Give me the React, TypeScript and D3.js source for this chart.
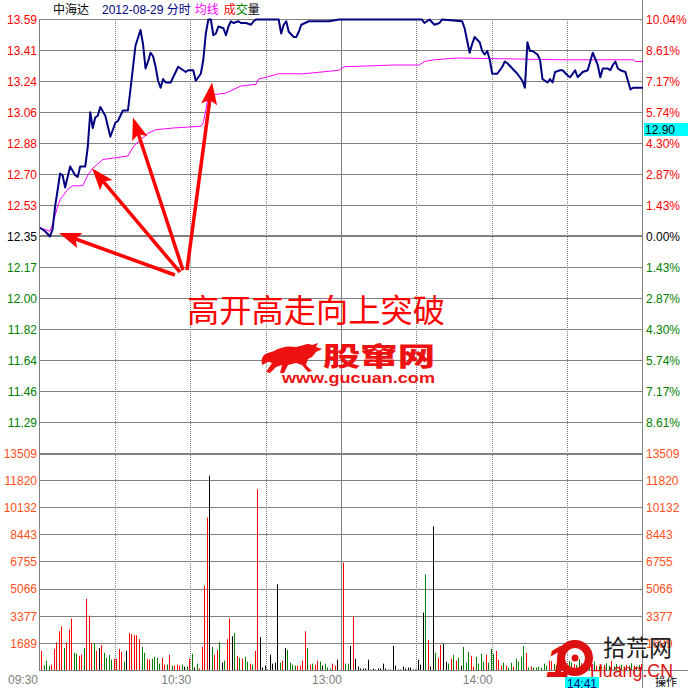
import React from 'react';
import * as d3 from 'd3';

const W = 688;
const H = 688;

// ---- axis labels ----
const priceTickLabels = ['13.59','13.41','13.24','13.06','12.88','12.70','12.53','12.35','12.17','12.00','11.82','11.64','11.46','11.29'];
const pctTickLabels = ['10.04%','8.61%','7.17%','5.74%','4.30%','2.87%','1.43%','0.00%','1.43%','2.87%','4.30%','5.74%','7.17%','8.61%'];
const volTickLabels = ['13509','11820','10132','8443','6755','5066','3377','1689'];
const volTickValues = [13509, 11820, 10132, 8443, 6755, 5066, 3377, 1689];
const timeLabels = ['09:30','10:30','13:00','14:00'];
const timeLabelMinutes = [0, 60, 120, 180];
const prevClose = 12.35;
const limitUp = 13.59;

// ---- price line (minute index from 09:30, price) ----
const priceMinutes = [0,2,4,5,6,8,9,10,12,14,15,16,18,19,20,21,22,23,24,26,28,30,31,33,35,36,38,40,41,42,43,44,45,46,47,48,49,50,52,54,55,57,58,59,61,62,64,65,66,67,68,69,70,71,73,74,75,76,77,79,80,82,84,85,86,95,96,97,98,99,101,102,103,104,107,111,115,119,121,152,153,155,157,159,160,168,169,170,171,172,173,175,176,177,178,179,180,182,184,185,186,188,190,192,193,194,195,196,198,199,200,202,203,204,205,207,208,210,211,213,214,216,218,220,222,223,224,226,227,228,229,230,231,233,234,235,236,240];
const prices = [12.40,12.38,12.35,12.39,12.52,12.71,12.70,12.63,12.75,12.70,12.69,12.75,12.75,12.86,13.06,12.97,13.03,13.04,13.09,13.04,12.92,13.00,13.01,13.07,13.07,13.19,13.44,13.53,13.45,13.31,13.35,13.40,13.38,13.32,13.24,13.20,13.25,13.23,13.23,13.29,13.32,13.30,13.29,13.30,13.30,13.24,13.28,13.36,13.51,13.59,13.59,13.50,13.51,13.55,13.54,13.50,13.55,13.58,13.57,13.58,13.57,13.57,13.56,13.58,13.59,13.59,13.51,13.56,13.58,13.52,13.49,13.49,13.52,13.56,13.58,13.58,13.58,13.59,13.59,13.59,13.57,13.59,13.56,13.57,13.59,13.58,13.54,13.47,13.40,13.45,13.49,13.46,13.41,13.39,13.41,13.36,13.28,13.28,13.32,13.35,13.34,13.31,13.28,13.24,13.20,13.46,13.41,13.41,13.39,13.36,13.25,13.23,13.25,13.23,13.29,13.30,13.30,13.27,13.26,13.30,13.26,13.29,13.30,13.40,13.33,13.26,13.31,13.31,13.30,13.33,13.35,13.31,13.30,13.29,13.24,13.19,13.20,13.20];

// ---- average price line ----
const avgMinutes = [0,4,5,7,8,9,11,13,17,19,21,25,30,35,37,39,43,46,53,64,65,67,69,74,80,86,87,90,95,105,119,121,141,151,153,157,166,207,236,237,240];
const avgPrices = [12.40,12.38,12.42,12.52,12.56,12.58,12.62,12.64,12.64,12.70,12.74,12.79,12.80,12.81,12.86,12.89,12.94,12.96,12.97,12.98,13.00,13.15,13.16,13.17,13.21,13.22,13.25,13.26,13.28,13.28,13.30,13.32,13.33,13.33,13.35,13.36,13.37,13.36,13.36,13.35,13.35];

// ---- volume (one bar per minute), r = up, g = down, k = flat ----
const morningVolumes = [1221,325,610,285,366,1343,1750,2442,2747,1404,1750,2564,3235,1099,1038,916,997,1404,4456,3418,1689,1689,1221,1404,1587,1099,794,977,672,733,733,1343,1160,549,1221,2320,2259,2198,2198,1953,1465,1099,733,672,733,855,794,427,794,366,366,977,305,305,366,305,366,244,244,733,1038,183,427,122,1465,5250,9523,12128,1465,977,1282,1770,488,610,1953,3235,2137,2320,916,794,733,855,549,427,366,1221,11294,2076,183,305,61,977,427,488,5372,488,610,1404,1282,488,366,305,305,305,610,2442,1404,366,427,366,610,549,305,427,183,122,427,305,672];
const morningColors = ['r','g','g','g','r','r','r','r','r','g','r','r','r','g','g','r','r','g','r','r','r','g','r','k','r','g','g','g','g','r','r','r','r','g','k','r','r','r','r','r','g','g','r','r','g','g','g','g','r','r','g','r','g','r','r','r','g','k','g','r','g','k','g','r','r','r','r','k','g','r','r','g','k','g','r','r','k','g','r','g','r','g','g','r','g','r','r','k','k','k','k','k','k','k','k','g','r','k','g','g','g','g','r','r','r','r','g','r','g','r','r','g','k','g','g','g','r','r','k'];
const afternoonVolumes = [6715,427,427,1526,3357,733,244,122,122,122,672,61,122,61,122,122,427,122,61,61,1526,305,61,61,244,122,183,183,61,61,672,366,3602,5983,1892,244,8974,1099,794,1587,1648,549,427,733,977,610,794,305,1465,488,1160,916,244,855,427,1038,549,977,488,1343,1038,1221,672,305,488,305,183,488,244,733,549,855,1526,1099,183,244,183,183,244,183,427,305,610,580,400,300,500,350,450,300,600,500,400,350,700,450,500,400,1100,350,550,300,250,300,350,450,300,600,250,400,300,350,250,350,300,450,300,250,350,400];
const afternoonColors = ['r','g','g','k','r','k','k','k','k','k','k','k','k','k','k','k','k','k','k','k','k','k','k','k','k','k','k','k','k','k','k','k','k','g','r','k','k','g','r','r','k','k','g','r','g','r','g','k','g','g','g','r','r','g','g','g','g','r','g','g','g','r','r','r','g','r','g','g','r','g','g','g','g','r','g','r','g','g','g','g','g','g','r','r','g','g','r','g','g','r','g','g','r','g','g','r','g','g','g','r','g','r','g','g','r','g','g','r','g','g','r','g','g','r','g','g','r','g','g','r'];

// ---- annotation arrows: tip (minute, price) and tail (minute, price) ----
const arrowTips = [[7.6, 12.37], [20.7, 12.74], [37.0, 13.03], [68.5, 13.23]];
const arrowTails = [[53.7, 12.13], [55.7, 12.146], [56.9, 12.158], [58.5, 12.158]];

const COLORS: Record<string, string> = { r: '#ff0000', g: '#008000', k: '#000000' };
const GRID = '#808080';
const SANS = "'Liberation Sans', Arial, 'Noto Sans CJK SC', sans-serif";
const CJK = "'Noto Sans CJK SC', 'Liberation Sans', sans-serif";

export default function App() {
  const step = (limitUp - prevClose) / 7;
  const x = d3.scaleLinear().domain([0, 240]).range([40, 643]);
  const y = d3.scaleLinear().domain([limitUp, prevClose - 6 * step]).range([19.5, 422.5]);
  const vy = d3.scaleLinear().domain([0, 13509]).range([670.5, 453.5]);
  const px = (v: number) => Math.round(v) + 0.5;

  const priceTickValues = priceTickLabels.map((_, i) => prevClose + (7 - i) * step);

  const line = d3.line<[number, number]>().x(d => x(d[0])).y(d => y(d[1]));
  const pricePath = line(priceMinutes.map((m, i) => [m, prices[i]]))!;
  const avgPath = line(avgMinutes.map((m, i) => [m, avgPrices[i]]))!;

  const bars: { i: number; v: number; c: string }[] = [];
  morningVolumes.forEach((v, i) => bars.push({ i, v, c: morningColors[i] }));
  afternoonVolumes.forEach((v, j) => bars.push({ i: 120 + j, v, c: afternoonColors[j] }));

  const priceColor = (i: number) => (i < 7 ? '#ff0000' : i === 7 ? '#000000' : '#008000');

  const arrows = arrowTips.map((t, i) => {
    const tx = x(t[0]), ty = y(t[1]);
    const bx = x(arrowTails[i][0]), by = y(arrowTails[i][1]);
    const dx = tx - bx, dy = ty - by;
    const len = Math.hypot(dx, dy);
    const ux = dx / len, uy = dy / len;
    const nx = -uy, ny = ux;
    const hl = 22, hw = 8;
    const backX = tx - ux * hl, backY = ty - uy * hl;
    const notchX = tx - ux * hl * 0.8, notchY = ty - uy * hl * 0.8;
    const head = `M${tx},${ty} L${backX + nx * hw},${backY + ny * hw} L${notchX},${notchY} L${backX - nx * hw},${backY - ny * hw} Z`;
    return { bx, by, ex: notchX, ey: notchY, head };
  });

  const bullPath = 'M2,22 Q0,12 8,10 L14,8 Q24,2 36,4 L44,2 Q48,0 52,2 L58,0 L56,4 L62,6 L56,9 L52,14 L48,16 L46,22 L52,28 L48,29 L42,22 L36,20 L28,22 L24,30 L20,30 L22,22 L16,24 L10,30 L6,29 L12,20 Q8,18 6,20 Z';

  return (
    <svg width={W} height={H} viewBox={`0 0 ${W} ${H}`} style={{ position: 'absolute', left: 0, top: 0, background: '#fff' }}>
      <rect x={0} y={0} width={W} height={H} fill="#fff" />
      {/* horizontal price grid */}
      {priceTickValues.map((v, i) => (
        <line key={'pg' + i} x1={40} x2={643} y1={i === 7 ? 236 : px(y(v) - 0.5)} y2={i === 7 ? 236 : px(y(v) - 0.5)} stroke={GRID} strokeWidth={i === 7 ? 2 : 1} />
      ))}
      {/* volume grid */}
      {volTickValues.map((v, i) => (
        <line key={'vg' + i} x1={40} x2={643} y1={i === 0 ? 454 : px(vy(v) - 0.5)} y2={i === 0 ? 454 : px(vy(v) - 0.5)} stroke={GRID} strokeWidth={i === 0 ? 2 : 1} />
      ))}
      {/* vertical grid */}
      {d3.range(1, 8).map(k => (
        <line key={'vv' + k} x1={px(x(k * 30) - 0.5)} x2={px(x(k * 30) - 0.5)} y1={19} y2={671} stroke={GRID} strokeWidth={1} strokeDasharray={k === 4 ? undefined : '1,1'} />
      ))}
      <line x1={39.5} x2={39.5} y1={19} y2={671} stroke={GRID} />
      <line x1={642.5} x2={642.5} y1={0} y2={688} stroke={GRID} />
      {/* volume bars */}
      {bars.map(b => (
        <line key={'b' + b.i} x1={px(x(b.i + 0.6) - 0.5)} x2={px(x(b.i + 0.6) - 0.5)} y1={670} y2={vy(b.v)} stroke={COLORS[b.c]} strokeWidth={1} />
      ))}
      <line x1={40} x2={688} y1={670.5} y2={670.5} stroke={GRID} />
      {/* price & average lines */}
      <path d={avgPath} fill="none" stroke="#ff00ff" strokeWidth={1} />
      <path d={pricePath} fill="none" stroke="#000080" strokeWidth={2} strokeLinejoin="round" />
      {/* arrows */}
      {arrows.map((a, i) => (
        <g key={'ar' + i}>
          <line x1={a.bx} y1={a.by} x2={a.ex} y2={a.ey} stroke="#ff0000" strokeWidth={3.5} />
          <path d={a.head} fill="#ff0000" />
        </g>
      ))}
      <text x={187} y={322} fontFamily={CJK} fontSize={32} fill="#ff0000" textLength={258} lengthAdjust="spacingAndGlyphs">高开高走向上突破</text>
      {/* gucuan watermark */}
      <g transform="translate(260,343)">
        <path d={bullPath} fill="#ee1111" />
      </g>
      <text x={323} y={366} fontFamily={CJK} fontSize={26} fontWeight={900} fill="#ee1111" textLength={112} lengthAdjust="spacingAndGlyphs">股窜网</text>
      <text x={282} y={383} fontFamily={SANS} fontSize={15} fontWeight={700} fill="#ee1111" textLength={153} lengthAdjust="spacingAndGlyphs">www.gucuan.com</text>
      {/* left price labels */}
      {priceTickValues.map((v, i) => (
        <text key={'pl' + i} x={37} y={y(v)} dy="0.36em" textAnchor="end" fontFamily={SANS} fontSize={12} fill={priceColor(i)}>{priceTickLabels[i]}</text>
      ))}
      {priceTickValues.map((v, i) => (
        <text key={'pr' + i} x={646} y={y(v)} dy="0.36em" textAnchor="start" fontFamily={SANS} fontSize={12} fill={priceColor(i)}>{pctTickLabels[i]}</text>
      ))}
      {volTickValues.map((v, i) => (
        <g key={'vl' + i}>
          <text x={37} y={vy(v)} dy="0.36em" textAnchor="end" fontFamily={SANS} fontSize={12} fill="#ff5020">{volTickLabels[i]}</text>
          <text x={646} y={vy(v)} dy="0.36em" textAnchor="start" fontFamily={SANS} fontSize={12} fill="#ff5020">{volTickLabels[i]}</text>
        </g>
      ))}
      {/* time labels */}
      {timeLabels.map((t, i) => (
        <text key={'t' + i} x={i === 0 ? 38 : x(timeLabelMinutes[i]) + 0.5} y={684} textAnchor="end" fontFamily={SANS} fontSize={12} fill="#808080">{t}</text>
      ))}
      {/* header */}
      <text x={53} y={14} fontFamily={SANS} fontSize={12}>
        <tspan fill="#000">中海达</tspan>
        <tspan dx={13} fill="#000080">2012-08-29 分时</tspan>
        <tspan dx={4} fill="#ff00ff">均线</tspan>
        <tspan dx={5} fill="#ff0000">成</tspan>
        <tspan fill="#008000">交</tspan>
        <tspan fill="#000">量</tspan>
      </text>
      {/* cursor price box */}
      <rect x={644} y={123} width={44} height={13} fill="#00ffff" />
      <text x={645} y={134} fontFamily={SANS} fontSize={12} fill="#000">12.90</text>
      {/* time box */}
      <rect x={565} y={677} width={34} height={11} fill="#00ffff" />
      <text x={567} y={688} fontFamily={SANS} fontSize={12} fill="#000080">14:41</text>
      {/* 10huang logo */}
      <text x={546} y={677} fontFamily={SANS} fontSize={44} fontWeight={900} fontStyle="italic" fill="#dd1111">1</text>
      <circle cx={575} cy={658} r={14} fill="none" stroke="#dd1111" strokeWidth={8} />
      <circle cx={575} cy={658} r={3.5} fill="#dd1111" />
      <text x={603} y={656} fontFamily={CJK} fontSize={23} fill="#222">拾荒网</text>
      <text x={590} y={677} fontFamily={SANS} fontSize={19} fill="#dd1111" textLength={83} lengthAdjust="spacingAndGlyphs">Huang.CN</text>
      <text x={655} y={686} fontFamily={CJK} fontSize={11} fill="#000">操作</text>
    </svg>
  );
}
